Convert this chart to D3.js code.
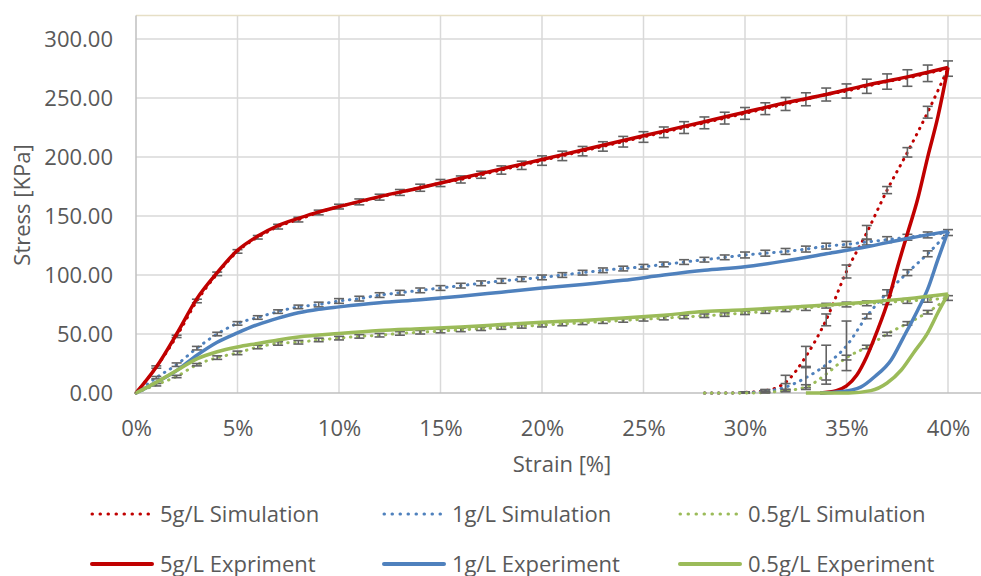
<!DOCTYPE html>
<html>
<head>
<meta charset="utf-8">
<script src="https://cdn.jsdelivr.net/npm/d3@7"></script>
<style>
  body { margin: 0; background: #fff; }
  text { font-family: 'Open Sans', sans-serif; fill: #595959; }
</style>
</head>
<body>
<svg id="chart" width="981" height="576"></svg>
<script>
// tick values
const xTicks = [0, 5, 10, 15, 20, 25, 30, 35, 40]
const yTicks = [0, 50, 100, 150, 200, 250, 300]

// simulation: loading 0 -> 40 %, then unloading 39 -> 28 %
const simStrain = [0, 1, 2, 3, 4, 5, 6, 7, 8, 9, 10, 11, 12, 13, 14, 15, 16, 17, 18, 19, 20,
    21, 22, 23, 24, 25, 26, 27, 28, 29, 30, 31, 32, 33, 34, 35, 36, 37, 38, 39, 40,
    39, 38, 37, 36, 35, 34, 33, 32, 31, 30, 29, 28]

const sim5 = [0, 22, 48, 78, 101, 120, 132, 141, 147, 153, 158, 162, 166, 170, 174, 178, 181, 185, 189, 193, 197,
    201, 205, 209, 213, 217, 221, 225, 229, 233, 237, 241, 245, 249, 253, 256, 260, 264, 267, 271, 275,
    238, 204, 172, 136, 103, 62, 31, 9, 2, 0.5, 0, 0]
const simErr5 = [0, 1, 1, 1.5, 1.5, 1.5, 1.5, 2, 2, 2, 2, 2.5, 2.5, 2.5, 3, 3, 3, 3, 3.5, 3.5, 4,
    4, 4, 4, 4.5, 4.5, 4.5, 5, 5, 5, 5, 5, 5.5, 5.5, 5.5, 6, 6, 6.5, 7, 7, 6.5,
    5, 4, 3, 6, 5.5, 5, 8.5, 6, 1, 0.5, 0, 0]

const sim1 = [0, 13, 24, 38, 50, 59, 64, 69, 73, 75, 78, 80, 83, 85, 87, 89, 91, 93, 95, 96.5, 98,
    100, 102, 104, 105.5, 107, 109, 111, 113, 115, 117, 118.5, 120, 122, 124.5, 126, 128, 130, 132, 134, 136,
    118, 102, 85, 65, 40, 24, 13, 5, 1.5, 0.3, 0, 0]
const simErr1 = [0, 1, 1.5, 1.5, 1.5, 1.5, 1.5, 1.5, 1.5, 2, 2, 2, 2, 2, 2, 2, 2, 2, 2, 2, 2,
    2, 2, 2, 2, 2, 2, 2, 2, 2, 2.5, 2.5, 2.5, 2.5, 2.5, 2.5, 2.5, 2.5, 2.5, 2.5, 2.5,
    2.5, 2.5, 2.5, 2, 21, 16.5, 8.5, 3, 1, 0.5, 0, 0]

const sim05 = [0, 7, 14, 24, 30, 34, 39, 42, 43, 45, 46.5, 48, 49, 50.5, 51.5, 52.5, 53.5, 54.5, 55.5, 56.5, 57.5,
    58.5, 59.5, 60.5, 61.5, 62.5, 63.5, 64.5, 65.5, 66.5, 68, 69, 70.5, 72, 74, 75, 76, 77, 78, 79, 80.5,
    68.5, 59, 50, 39, 30, 16, 5, 2, 0.5, 0, 0, 0]
const simErr05 = [0, 1, 1, 1, 1.5, 1.5, 1.5, 1.5, 1.5, 1.5, 1.5, 1.5, 1.5, 1.5, 1.5, 1.5, 1.5, 1.5, 1.5, 1.5, 1.5,
    1.5, 1.5, 1.5, 1.5, 1.5, 1.5, 1.5, 1.5, 1.5, 1.5, 1.5, 1.5, 2, 2, 2, 2, 2, 2, 2, 2,
    1.5, 1.5, 1.5, 1.5, 2, 5, 2, 1, 0.5, 0, 0, 0]

// experiments: [strain %, stress KPa], loading up to 40 % then unloading
const exp5 = [[0, 0], [1, 22], [2, 50], [3, 80], [4, 102], [5, 121], [6, 133], [7, 142], [8, 148], [9, 153.5],
    [10, 158], [12, 166.5], [14, 174], [16, 182], [18, 190], [20, 198], [22, 206], [24, 214], [26, 222],
    [28, 230], [30, 238], [32, 246], [34, 253], [36, 261], [38, 268], [40, 276],
    [39.5, 234], [39, 200], [38.5, 164], [38, 135], [37.5, 106], [37.1, 81], [36.5, 52], [36, 31],
    [35.5, 15], [35, 6], [34.5, 2], [33.7, 0]]

const exp1 = [[0, 0], [1, 9], [2, 19], [3, 32], [4, 43], [5, 51], [6, 58], [7, 63.5], [8, 68], [9, 71],
    [10, 73], [12, 76.5], [14, 79], [16, 82], [18, 85.5], [20, 89], [22, 92], [24, 95.5], [26, 100],
    [28, 104], [30, 107], [32, 112], [34, 118], [36, 124], [38, 131], [40, 137],
    [39.5, 113], [39, 88], [38.5, 70], [37.8, 47], [37.2, 28], [36.4, 14], [35.7, 5], [34.7, 1], [33.7, 0]]

const exp05 = [[0, 0], [1, 9], [2, 19], [3, 29], [4, 35], [5, 39], [6, 42], [7, 45], [8, 47.5],
    [10, 50.5], [12, 53], [14, 54.5], [16, 56], [18, 58], [20, 60], [22, 61.5], [24, 63.5], [26, 66],
    [28, 69], [30, 70.5], [32, 72.5], [34, 74.5], [36, 77], [38, 80], [40, 84],
    [39.5, 68], [39, 51], [38.3, 34], [37.7, 19.5], [37, 8.5], [36.2, 2], [35.1, 0], [33, 0]]

const colors = { red: '#c00000', blue: '#4f81bd', green: '#9bbb59' }

const simSeries = [
    { label: '5g/L Simulation', color: colors.red, values: sim5, err: simErr5 },
    { label: '1g/L Simulation', color: colors.blue, values: sim1, err: simErr1 },
    { label: '0.5g/L Simulation', color: colors.green, values: sim05, err: simErr05 }
]
const expSeries = [
    { label: '5g/L Expriment', color: colors.red, values: exp5 },
    { label: '1g/L Experiment', color: colors.blue, values: exp1 },
    { label: '0.5g/L Experiment', color: colors.green, values: exp05 }
]

const svg = d3.select('#chart')

const x = d3.scaleLinear().domain([0, 40]).range([136, 948])
const y = d3.scaleLinear().domain([0, 320]).range([393, 15.5])
const right = 981
const fontSize = 22

/// grid ////////
svg.append('g')
    .selectAll('line')
    .data(yTicks.slice(1))
    .join('line')
    .attr('x1', x(0)).attr('x2', right)
    .attr('y1', d => y(d)).attr('y2', d => y(d))
    .attr('stroke', '#d9d9d9').attr('stroke-width', 1.5)

svg.append('g')
    .selectAll('line')
    .data(xTicks.slice(1))
    .join('line')
    .attr('x1', d => x(d)).attr('x2', d => x(d))
    .attr('y1', y(320)).attr('y2', y(0))
    .attr('stroke', '#d9d9d9').attr('stroke-width', 1.5)

// plot area top edge
svg.append('line')
    .attr('x1', x(0)).attr('x2', right)
    .attr('y1', y(320)).attr('y2', y(320))
    .attr('stroke', '#e6dfc6').attr('stroke-width', 1.5)

// axes lines
svg.append('line')
    .attr('x1', x(0)).attr('x2', right)
    .attr('y1', y(0)).attr('y2', y(0))
    .attr('stroke', '#bfbfbf').attr('stroke-width', 1.5)
svg.append('line')
    .attr('x1', x(0)).attr('x2', x(0))
    .attr('y1', y(320)).attr('y2', y(0))
    .attr('stroke', '#bfbfbf').attr('stroke-width', 1.5)

/// tick labels ////////
const xAxis = svg.append('g')
    .attr('transform', `translate(0,${y(0)})`)
    .call(d3.axisBottom(x).tickValues(xTicks).tickFormat(d => d + '%').tickSize(0).tickPadding(27))
const yAxis = svg.append('g')
    .attr('transform', `translate(${x(0)},0)`)
    .call(d3.axisLeft(y).tickValues(yTicks).tickFormat(d3.format('.2f')).tickSize(0).tickPadding(23))

;[xAxis, yAxis].forEach(a => {
    a.select('.domain').remove()
    a.selectAll('text')
        .attr('font-family', "'Open Sans', sans-serif")
        .attr('font-size', fontSize)
        .attr('fill', '#595959')
})

// axis titles
svg.append('text')
    .attr('x', 562).attr('y', 472)
    .attr('text-anchor', 'middle')
    .attr('font-size', fontSize)
    .text('Strain [%]')

svg.append('text')
    .attr('transform', `translate(30,205) rotate(-90)`)
    .attr('text-anchor', 'middle')
    .attr('font-size', fontSize)
    .text('Stress [KPa]')

/// series ////////
// loading and unloading branches are drawn apart so the smoothing does not loop at the peak
const line = d3.line()
    .x(d => x(d[0]))
    .y(d => y(d[1]))
    .curve(d3.curveMonotoneX)

function branches(pts) {
    const peak = d3.maxIndex(pts, d => d[0])
    return [pts.slice(0, peak + 1), pts.slice(peak).reverse()]
}

simSeries.forEach(s => {
    const pts = simStrain.map((st, i) => [st, s.values[i], s.err[i]])

    svg.append('g')
        .selectAll('path')
        .data(branches(pts))
        .join('path')
        .attr('d', line)
        .attr('fill', 'none')
        .attr('stroke', s.color)
        .attr('stroke-width', 3)
        .attr('stroke-linecap', 'round')
        .attr('stroke-dasharray', '0.5 6.5')

    const bars = svg.append('g')
        .attr('stroke', '#636363')
        .attr('stroke-width', 1.6)
        .selectAll('g')
        .data(pts.filter(p => p[2] >= 0.5))
        .join('g')

    bars.append('line')
        .attr('x1', d => x(d[0])).attr('x2', d => x(d[0]))
        .attr('y1', d => y(d[1] - d[2])).attr('y2', d => y(d[1] + d[2]))
    bars.append('line')
        .attr('x1', d => x(d[0]) - 5).attr('x2', d => x(d[0]) + 5)
        .attr('y1', d => y(d[1] - d[2])).attr('y2', d => y(d[1] - d[2]))
    bars.append('line')
        .attr('x1', d => x(d[0]) - 5).attr('x2', d => x(d[0]) + 5)
        .attr('y1', d => y(d[1] + d[2])).attr('y2', d => y(d[1] + d[2]))
})

expSeries.forEach(s => {
    svg.append('g')
        .selectAll('path')
        .data(branches(s.values))
        .join('path')
        .attr('d', line)
        .attr('fill', 'none')
        .attr('stroke', s.color)
        .attr('stroke-width', 3.5)
        .attr('stroke-linejoin', 'round')
})

/// legend ////////
const legendCols = [92, 384, 680]
const legendRows = [514, 564]

const legend = svg.append('g')
    .selectAll('g')
    .data([...simSeries.map((s, i) => ({ ...s, row: 0, col: i, dashed: true })),
           ...expSeries.map((s, i) => ({ ...s, row: 1, col: i, dashed: false }))])
    .join('g')
    .attr('transform', d => `translate(${legendCols[d.col]},${legendRows[d.row]})`)

legend.append('line')
    .attr('x1', 0).attr('x2', d => d.dashed ? 57 : 60)
    .attr('stroke', d => d.color)
    .attr('stroke-width', d => d.dashed ? 3 : 4)
    .attr('stroke-linecap', 'round')
    .attr('stroke-dasharray', d => d.dashed ? '0.5 7.5' : null)

legend.append('text')
    .attr('x', 68)
    .attr('y', 7.5)
    .attr('font-size', fontSize)
    .text(d => d.label)
</script>
</body>
</html>
